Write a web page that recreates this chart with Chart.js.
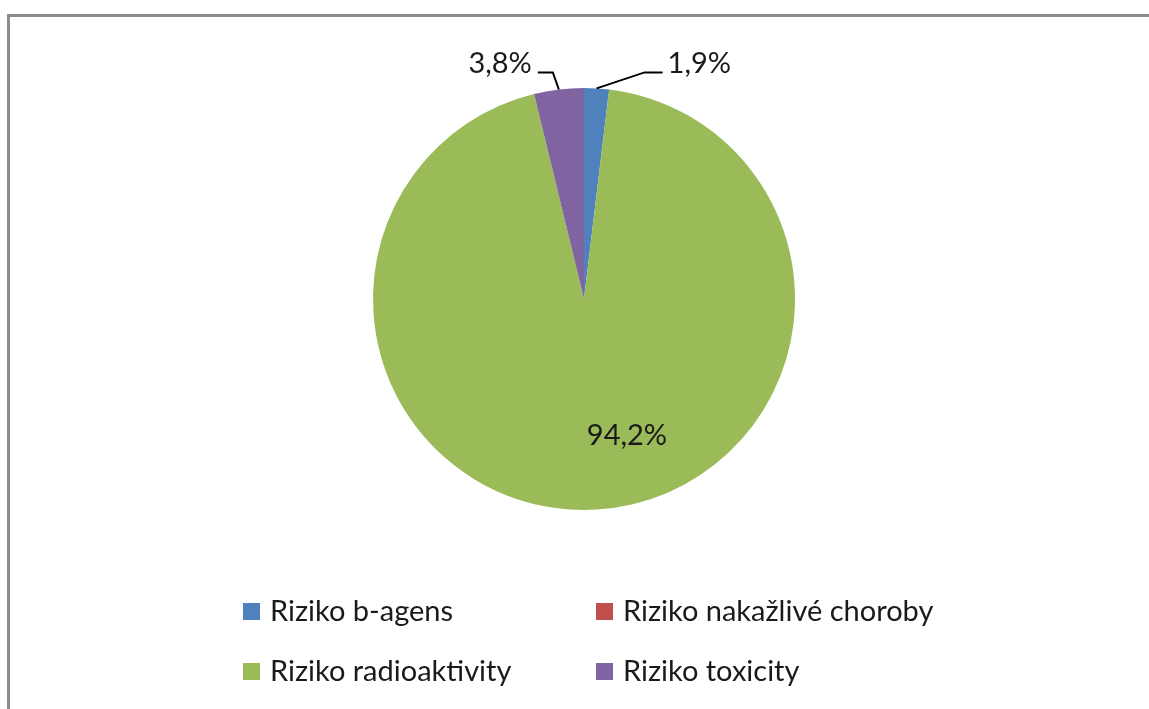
<!DOCTYPE html>
<html>
<head>
<meta charset="utf-8">
<title>Rizika</title>
<script src="https://cdn.jsdelivr.net/npm/chart.js@4.4.1/dist/chart.umd.min.js"></script>
<style>
    html, body { margin: 0; padding: 0; background: #fff; }
    canvas { display: block; }
</style>
</head>
<body>
<canvas id="ChartForRisk" width="1149" height="709"></canvas>
<script>

// share of each risk type, in percent
var riskLabels = ['Riziko b-agens', 'Riziko nakažlivé choroby', 'Riziko radioaktivity', 'Riziko toxicity'];
var riskShares = [1.9, 0, 94.2, 3.8];
var riskColors = ['#4f81bd', '#c0504d', '#9bbb59', '#8064a2'];

var fontFamily = 'Lato, "Open Sans", sans-serif';
var fontSize = 29;
var textColor = '#1a1a1a';

// where each percentage goes: outside with a leader line, or inside the slice
var labelPlacement = [
    { outside: true, elbow: [48, -16], tail: 18 },
    null,
    { outside: false, angleShift: -14, radius: 0.68 },
    { outside: true, elbow: [-6, -17], tail: -15 }
];

// two-column legend grid under the pie
var legendColumns = [243, 596];
var legendRows = [612, 672];

function formatShare(v) {
    return v.toFixed(1).replace('.', ',') + '%';
}

var framePlugin = {
    id: 'frame',
    beforeDraw: function (chart) {
        var ctx = chart.ctx;
        ctx.save();
        ctx.strokeStyle = '#8c8c8c';
        ctx.lineWidth = 3;
        ctx.strokeRect(8.5, 15.5, 3000, 3000);
        ctx.restore();
    }
};

var shareLabelsPlugin = {
    id: 'shareLabels',
    afterDatasetsDraw: function (chart) {
        var ctx = chart.ctx;
        var arcs = chart.getDatasetMeta(0).data;
        ctx.save();
        ctx.font = fontSize + 'px ' + fontFamily;
        ctx.fillStyle = textColor;
        ctx.textBaseline = 'middle';
        arcs.forEach(function (arc, i) {
            var p = labelPlacement[i];
            var v = riskShares[i];
            if (!p || !v) return;
            var mid = (arc.startAngle + arc.endAngle) / 2;
            var r = arc.outerRadius;
            var text = formatShare(v);
            if (!p.outside) {
                var a = mid + p.angleShift * Math.PI / 180;
                ctx.textAlign = 'center';
                ctx.fillText(text, arc.x + Math.cos(a) * r * p.radius, arc.y + Math.sin(a) * r * p.radius);
                return;
            }
            var ex = arc.x + Math.cos(mid) * r;
            var ey = arc.y + Math.sin(mid) * r;
            var bx = ex + p.elbow[0];
            var by = ey + p.elbow[1];
            var tx = bx + p.tail;
            ctx.strokeStyle = '#000';
            ctx.lineWidth = 2;
            ctx.beginPath();
            ctx.moveTo(ex, ey);
            ctx.lineTo(bx, by);
            ctx.lineTo(tx, by);
            ctx.stroke();
            if (p.tail > 0) {
                ctx.textAlign = 'left';
                ctx.fillText(text, tx + 5, by - 9);
            } else {
                ctx.textAlign = 'right';
                ctx.fillText(text, tx - 6, by - 9);
            }
        });
        ctx.restore();
    }
};

var gridLegendPlugin = {
    id: 'gridLegend',
    afterDraw: function (chart) {
        var ctx = chart.ctx;
        var labels = chart.data.labels;
        var colors = chart.data.datasets[0].backgroundColor;
        ctx.save();
        ctx.font = fontSize + 'px ' + fontFamily;
        ctx.textBaseline = 'middle';
        ctx.textAlign = 'left';
        labels.forEach(function (label, i) {
            var x = legendColumns[i % 2];
            var y = legendRows[Math.floor(i / 2)];
            ctx.fillStyle = colors[i];
            ctx.fillRect(x, y - 9, 17, 17);
            ctx.fillStyle = textColor;
            ctx.fillText(label, x + 27, y);
        });
        ctx.restore();
    }
};

var ctx = document.getElementById('ChartForRisk').getContext('2d');

var ChartForRisk = new Chart(ctx, {
    type: 'pie',
    data: {
        labels: riskLabels,
        datasets: [{
            data: riskShares,
            backgroundColor: riskColors,
            borderWidth: 0
        }]
    },
    options: {
        responsive: false,
        animation: false,
        layout: {
            padding: { top: 88, bottom: 199, left: 373, right: 354 }
        },
        plugins: {
            legend: { display: false },
            tooltip: { enabled: false }
        }
    },
    plugins: [framePlugin, shareLabelsPlugin, gridLegendPlugin]
});

</script>
</body>
</html>
